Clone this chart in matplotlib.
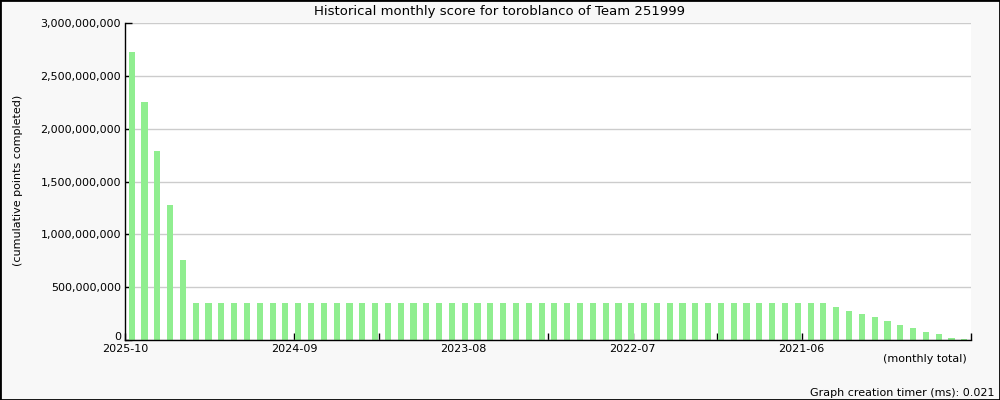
import matplotlib
matplotlib.use("Agg")
import matplotlib.pyplot as plt
import matplotlib.transforms as mtransforms
from matplotlib.ticker import FuncFormatter, FixedLocator
from matplotlib.patches import Rectangle

title = "Historical monthly score for toroblanco of Team 251999"
ylabel = "(cumulative points completed)"
xlabel = "(monthly total)"
footer = "Graph creation timer (ms): 0.021"

tick_labels = ["2025-10", "2024-09", "2023-08", "2022-07", "2021-06"]

values = [
    2728e6, 2254e6, 1790e6, 1279e6, 758e6,
    350e6, 350e6, 350e6, 350e6, 350e6, 350e6, 350e6, 350e6, 350e6, 350e6,
    350e6, 350e6, 350e6, 350e6, 350e6, 350e6, 350e6, 350e6, 350e6, 350e6,
    350e6, 350e6, 350e6, 350e6, 350e6, 350e6, 350e6, 350e6, 350e6, 350e6,
    350e6, 350e6, 350e6, 350e6, 350e6, 350e6, 350e6, 350e6, 350e6, 350e6,
    350e6, 350e6, 350e6, 350e6, 350e6, 350e6, 350e6, 350e6, 350e6, 350e6,
    312e6, 275e6, 247e6, 218e6, 180e6, 145e6, 114e6, 77e6, 60e6, 21e6, 9e6,
]

bg = "#f8f8f8"
bar_color = "#90ee90"

fig = plt.figure(figsize=(10, 4), dpi=100, facecolor=bg)
ax = fig.add_axes([0.1253, 0.15, 0.8454, 0.7917])
ax.set_facecolor("white")

n = len(values)
xs = [i + 0.5 for i in range(n)]
ax.bar(xs, values, width=0.48, color=bar_color, zorder=2)

ax.set_xlim(0, n)
ax.set_ylim(0, 3e9)
ax.set_yticks([0, 5e8, 1e9, 1.5e9, 2e9, 2.5e9, 3e9])
ax.yaxis.set_major_formatter(FuncFormatter(lambda v, p: f"{int(v):,}"))
ax.grid(axis="y", color="#cccccc", linewidth=1, zorder=0)

major = [k * n / 5 for k in range(len(tick_labels))]
minor = [k * n / 10 for k in range(11)]
ax.xaxis.set_major_locator(FixedLocator(major))
ax.set_xticklabels(tick_labels)
ax.xaxis.set_minor_locator(FixedLocator(minor))

ax.tick_params(axis="both", which="both", direction="in", length=5, width=1,
               labelsize=8, colors="black")
ax.tick_params(axis="x", pad=3)
ax.tick_params(axis="y", pad=3)

for s in ["top", "right"]:
    ax.spines[s].set_visible(False)
for s in ["left", "bottom"]:
    ax.spines[s].set_linewidth(1)
    ax.spines[s].set_color("black")
    ax.spines[s].set_zorder(3)

# nudge the "0" y tick label slightly upward so it clears the first date label
fig.canvas.draw()
zero_lbl = ax.get_yticklabels()[0]
zero_lbl.set_transform(zero_lbl.get_transform() +
                       mtransforms.ScaledTranslation(0, 3 / 72, fig.dpi_scale_trans))

fig.text(0.5, 0.972, title, ha="center", va="center", fontsize=9.5)
fig.text(0.018, 0.55, ylabel, ha="center", va="center", rotation=90, fontsize=8)
fig.text(0.967, 0.103, xlabel, ha="right", va="center", fontsize=8)
fig.text(0.995, 0.018, footer, ha="right", va="center", fontsize=8)

fig.patches.append(Rectangle((0, 0), 1, 1, transform=fig.transFigure,
                             fill=False, edgecolor="black", linewidth=2))

fig.savefig("out.png", dpi=100, facecolor=bg)
